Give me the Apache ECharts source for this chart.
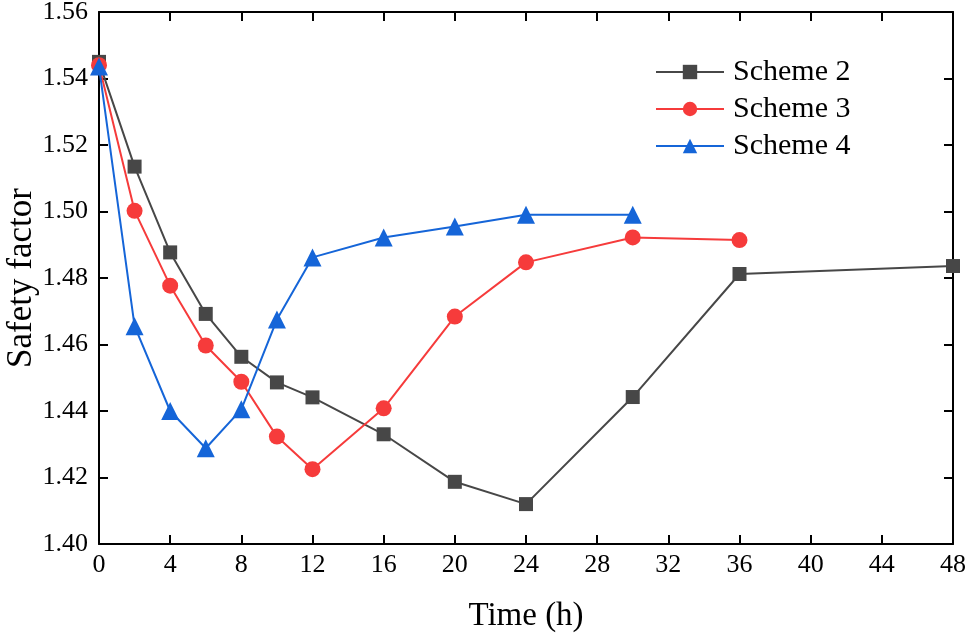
<!DOCTYPE html>
<html>
<head>
<meta charset="utf-8">
<script src="https://cdn.jsdelivr.net/npm/echarts@6/dist/echarts.min.js"></script>
<style>
html,body{margin:0;padding:0;background:#fff;}
#chart{width:968px;height:639px;}
</style>
</head>
<body>
<div id="chart"></div>
<script>
var seriesNames = ['Scheme 2', 'Scheme 3', 'Scheme 4'];
var scheme2Time = [0, 2, 4, 6, 8, 10, 12, 16, 20, 24, 30, 36, 48];
var scheme2Vals = [1.545, 1.5135, 1.4877, 1.4692, 1.4563, 1.4486, 1.4441, 1.4330, 1.4187, 1.4120, 1.4442, 1.4812, 1.4836];
var scheme3Time = [0, 2, 4, 6, 8, 10, 12, 16, 20, 24, 30, 36];
var scheme3Vals = [1.544, 1.5002, 1.4777, 1.4597, 1.4488, 1.4323, 1.4225, 1.4408, 1.4684, 1.4847, 1.4922, 1.4914];
var scheme4Time = [0, 2, 4, 6, 8, 10, 12, 16, 20, 24, 30];
var scheme4Vals = [1.5436, 1.4655, 1.4400, 1.4288, 1.4405, 1.4675, 1.4862, 1.4922, 1.4955, 1.4990, 1.4990];

function pairs(t, v) { return t.map(function (x, i) { return [x, v[i]]; }); }

var FONT = '"Liberation Serif", "Times New Roman", serif';
var colors = ['#474747', '#f63b3b', '#1565d8'];
var symbols = ['rect', 'circle', 'triangle'];
var sizes = [14, 16, 18];
var datas = [pairs(scheme2Time, scheme2Vals), pairs(scheme3Time, scheme3Vals), pairs(scheme4Time, scheme4Vals)];

var axisLine = { show: true, onZero: false, lineStyle: { color: '#000', width: 2 } };
var axisTick = { show: true, inside: true, length: 9, lineStyle: { color: '#000', width: 2 } };

var chart = echarts.init(document.getElementById('chart'), null, { renderer: 'canvas' });
chart.setOption({
  animation: false,
  backgroundColor: '#fff',
  grid: { left: 99, right: 15, top: 12, bottom: 95, containLabel: false, outerBoundsMode: 'none' },
  legend: {
    orient: 'vertical',
    left: 655,
    top: 57,
    padding: 0,
    itemWidth: 68,
    itemHeight: 18,
    itemGap: 7,
    data: seriesNames,
    textStyle: { fontFamily: FONT, fontSize: 30, color: '#000', lineHeight: 30, padding: [0, 0, 0, 4] }
  },
  xAxis: [{
    type: 'value', min: 0, max: 48, interval: 4,
    name: 'Time (h)', nameLocation: 'middle', nameGap: 56, nameMoveOverlap: false,
    nameTextStyle: { fontFamily: FONT, fontSize: 33, color: '#000' },
    axisLine: axisLine, axisTick: axisTick,
    axisLabel: { fontFamily: FONT, fontSize: 26, color: '#000', margin: 8 },
    splitLine: { show: false }
  }, {
    type: 'value', min: 0, max: 48, interval: 4, position: 'top',
    axisLine: axisLine, axisTick: axisTick, axisLabel: { show: false }, splitLine: { show: false }
  }],
  yAxis: [{
    type: 'value', min: 1.40, max: 1.56, interval: 0.02,
    name: 'Safety factor', nameLocation: 'middle', nameGap: 60, nameMoveOverlap: false,
    nameTextStyle: { fontFamily: FONT, fontSize: 35, color: '#000' },
    axisLine: axisLine, axisTick: axisTick,
    axisLabel: { fontFamily: FONT, fontSize: 26, color: '#000', margin: 11,
      formatter: function (v) { return v.toFixed(2); } },
    splitLine: { show: false }
  }, {
    type: 'value', min: 1.40, max: 1.56, interval: 0.02, position: 'right',
    axisLine: axisLine, axisTick: axisTick, axisLabel: { show: false }, splitLine: { show: false }
  }],
  series: seriesNames.map(function (n, i) {
    return {
      name: n, type: 'line', data: datas[i],
      xAxisIndex: 0, yAxisIndex: 0,
      symbol: symbols[i], symbolSize: sizes[i],
      showAllSymbol: true,
      lineStyle: { color: colors[i], width: 2 },
      itemStyle: { color: colors[i], borderWidth: 0 },
      z: 2 + i
    };
  })
});
</script>
</body>
</html>
